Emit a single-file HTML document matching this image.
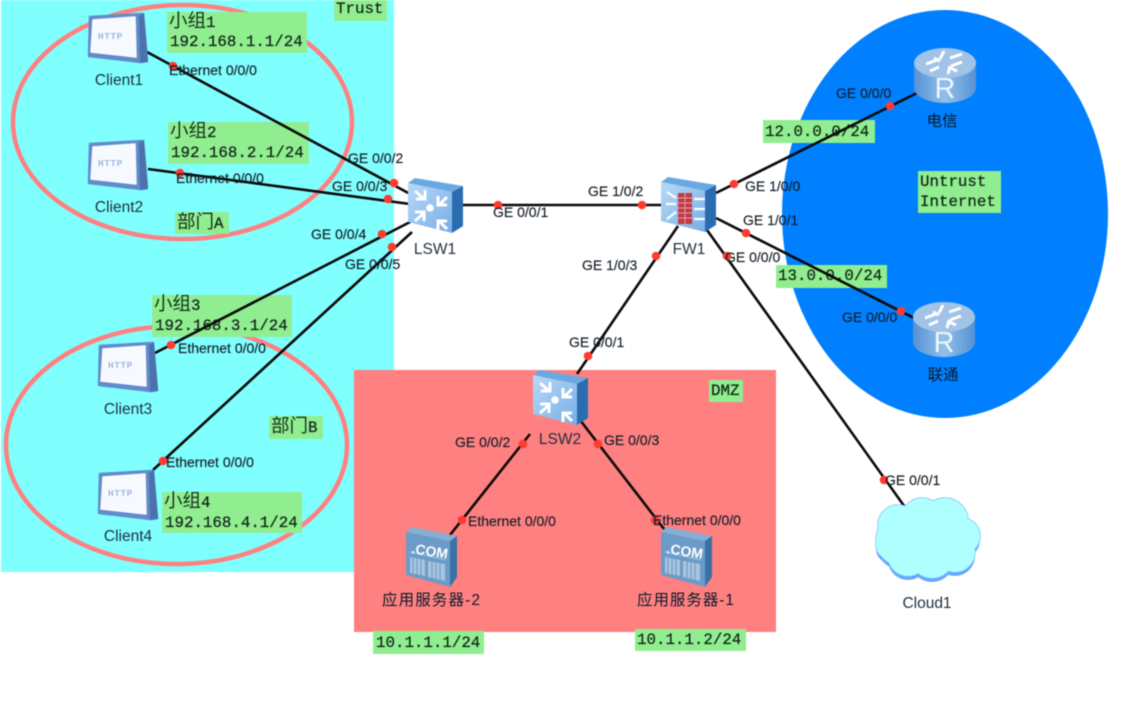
<!DOCTYPE html>
<html><head><meta charset="utf-8">
<style>
html,body{margin:0;padding:0;background:#fff;width:1128px;height:707px;overflow:hidden}
svg{display:block;filter:blur(.5px)}
.i{font-family:"Liberation Sans","Noto Sans CJK SC",sans-serif;font-size:14px;fill:#141e28;stroke:#141e28;stroke-width:.15}
.n{font-family:"Liberation Sans","Noto Sans CJK SC",sans-serif;font-size:15.5px;fill:#1d3040}
.z{font-family:"Liberation Sans","Noto Sans CJK SC",sans-serif;font-size:15.5px;fill:#0a1a2a}
.m{font-family:"Liberation Mono","Noto Sans CJK SC",monospace;font-size:15.8px;fill:#14281a;stroke:#14281a;stroke-width:.25}
.c{font-family:"Noto Sans CJK SC",sans-serif;font-size:18.5px;fill:#18301c}
.g{fill:#90ee90}
.l{stroke:#0a0a0a;stroke-width:2.6;fill:none}
.d{fill:#ff3b30}
.h{font-family:"Liberation Mono",monospace;font-weight:bold;font-size:9.5px;fill:#a3b6e2;letter-spacing:.5px}
</style></head><body>
<svg width="1128" height="707" viewBox="0 0 1128 707" xmlns="http://www.w3.org/2000/svg">
<defs>
<linearGradient id="sw" x1="0" y1="0" x2="1" y2="1"><stop offset="0" stop-color="#b8d9f7"/><stop offset="1" stop-color="#78aee6"/></linearGradient>
<linearGradient id="rt" x1="0" y1="0" x2="1" y2="0"><stop offset="0" stop-color="#5592d4"/><stop offset=".5" stop-color="#94bfea"/><stop offset="1" stop-color="#5592d4"/></linearGradient>
<g id="client">
<polygon points="90,17 143,14 147,61 141,62 89,56" fill="#628bcb" stroke="#628bcb" stroke-width="2.500" stroke-linejoin="round"/>
<polygon points="139,16 144,13 148,62 140,63" fill="#4b72ae"/>
<polygon points="93,20 135,17 136,57 91,52" fill="#f6faff" stroke="#f6faff" stroke-width="1.500" stroke-linejoin="round"/>
</g>
<g id="sw3d">
<polygon points="408,183 415,178 463,186 452,192" fill="#6aa8e2"/>
<polygon points="452,192 463,186 463,226 452,233" fill="#2a6cb0"/>
<polygon points="408,183 452,192 452,233 408,222" fill="url(#sw)"/>
</g>
<g id="swarr" fill="none" stroke="#fff" stroke-width="3">
<path d="M415 191l9 8M425 190v9h-9M447 197l-8 8M438 196v9h9M415 221l9-8M415 212h9v9M447 229l-8-8M438 230v-9h9"/>
<circle cx="430" cy="208" r="3.800" fill="#fff" stroke="none"/>
</g>
<g id="router">
<path d="M914 62v26a31 15 0 0 0 62 0V62z" fill="url(#rt)"/>
<ellipse cx="945" cy="63" rx="31" ry="15" fill="#a2c3e8"/>
<g fill="none" stroke="#fff" stroke-width="3"><path d="M926 64l11-4M930 71l9-4M950 58l12-4M951 66l11-4M944 51l-4 8M948 74l2-8M934 58l6 3M950 68l7 3"/></g>
</g>
<g id="srv">
<polygon points="406,532 412,527 457,536 450,541" fill="#86aed2"/>
<polygon points="450,541 457,536 457,577 450,587" fill="#3a72a6"/>
<polygon points="406,532 450,541 450,587 406,575" fill="#6b9bc8"/>
<path d="M410 552l36 8" stroke="#a8c4de" stroke-width="1" fill="none"/>
<g fill="#a9c4de"><polygon points="410,557 425,560 425,576 410,573"/><polygon points="428,561 445,564 445,581 428,577"/></g>
<g stroke="#6b9bc8" stroke-width="1"><path d="M413 557v17M417 558v17M421 559v17M432 561v17M436 562v17M440 563v17"/></g>
</g>
<g id="cl">
<circle cx="902" cy="540" r="26"/><circle cx="898" cy="525" r="20"/><circle cx="922" cy="518" r="20"/><circle cx="945" cy="521" r="23"/><circle cx="962" cy="536" r="18"/><circle cx="955" cy="552" r="20"/><circle cx="932" cy="556" r="22"/><circle cx="908" cy="556" r="20"/><circle cx="890" cy="545" r="14"/><circle cx="930" cy="535" r="30"/>
</g>
</defs>

<rect x="1" y="0" width="393" height="572" fill="#80ffff"/>
<rect x="354" y="370" width="422" height="262" fill="#ff8080"/>
<ellipse cx="945" cy="214" rx="163" ry="204" fill="#0080ff"/>
<ellipse cx="182.500" cy="122" rx="169.500" ry="117" fill="none" stroke="#ff8080" stroke-width="4.500"/>
<ellipse cx="176.500" cy="445" rx="170.500" ry="119" fill="none" stroke="#ff8080" stroke-width="4.500"/>

<rect class="g" x="167" y="12" width="140" height="41"/>
<rect class="g" x="168" y="122" width="141" height="42"/>
<rect class="g" x="334" y="0" width="53" height="21"/>
<rect class="g" x="175" y="212" width="54" height="22"/>
<rect class="g" x="152" y="295" width="140" height="42"/>
<rect class="g" x="162" y="492" width="140" height="41"/>
<rect class="g" x="269" y="416" width="54" height="23"/>
<rect class="g" x="709" y="380" width="34" height="22"/>
<rect class="g" x="373" y="631" width="111" height="23"/>
<rect class="g" x="635" y="629" width="111" height="22"/>
<rect class="g" x="763" y="120" width="112" height="23"/>
<rect class="g" x="776" y="265" width="111" height="23"/>
<rect class="g" x="918" y="171" width="83" height="42"/>

<text class="m" x="336" y="13">Trust</text>
<text class="m" x="170" y="46">192.168.1.1/24</text>
<text class="m" x="171" y="157">192.168.2.1/24</text>
<text class="m" x="155" y="330">192.168.3.1/24</text>
<text class="m" x="165" y="527">192.168.4.1/24</text>
<text class="c" x="169" y="27">小组<tspan class="m" style="font-size:15.800px">1</tspan></text>
<text class="c" x="170" y="137">小组<tspan class="m" style="font-size:15.800px">2</tspan></text>
<text class="c" x="154" y="310">小组<tspan class="m" style="font-size:15.800px">3</tspan></text>
<text class="c" x="164" y="507">小组<tspan class="m" style="font-size:15.800px">4</tspan></text>
<text class="c" x="177" y="228">部门<tspan class="m" style="font-size:15.800px">A</tspan></text>
<text class="c" x="271" y="432">部门<tspan class="m" style="font-size:15.800px">B</tspan></text>
<text class="m" x="711" y="395">DMZ</text>
<text class="m" x="376" y="647">10.1.1.1/24</text>
<text class="m" x="637" y="644">10.1.1.2/24</text>
<text class="m" x="765" y="136">12.0.0.0/24</text>
<text class="m" x="778" y="280">13.0.0.0/24</text>
<text class="m" x="920" y="186">Untrust</text>
<text class="m" x="920" y="206">Internet</text>

<g class="l">
<path d="M147 52L412 195"/><path d="M148 169L410 204"/>
<path d="M155 353L412 221"/><path d="M153 470L412 232"/>
<path d="M460 205H662"/><path d="M678 226L577 374"/>
<path d="M716 193L917 93"/><path d="M716 218L914 318"/>
<path d="M707 230L907 510"/><path d="M530 434L450 535"/><path d="M580 420L664 529"/>
</g>

<use href="#client"/>
<use href="#client" y="127"/>
<use href="#client" x="10" y="329"/>
<use href="#client" x="10" y="457"/>
<text class="h" x="98" y="39">HTTP</text>
<text class="h" x="98" y="166">HTTP</text>
<text class="h" x="108" y="368">HTTP</text>
<text class="h" x="108" y="496">HTTP</text>

<use href="#sw3d"/><use href="#swarr"/>
<use href="#sw3d" x="125" y="192"/><use href="#swarr" x="125" y="192"/>
<use href="#sw3d" x="253" y="-1"/>
<rect x="678" y="193" width="14" height="31" fill="#c03a48"/>
<path d="M678 198h14M678 203h14M678 208h14M678 213h14M678 218h14M685 193v31" stroke="#e8a0a8" stroke-width="1" fill="none"/>
<g stroke="#fff" stroke-width="2.200" fill="none"><path d="M667 192l9 6M666 204h10M667 219l9-7M694 199h11M694 209h11M694 219h11"/></g>

<use href="#router"/>
<text x="945" y="98" text-anchor="middle" style="font-family:'Liberation Sans',sans-serif;font-size:29px;fill:#eef5fc">R</text>
<use href="#router" x="-1" y="254"/>
<text x="944" y="352" text-anchor="middle" style="font-family:'Liberation Sans',sans-serif;font-size:29px;fill:#eef5fc">R</text>

<use href="#srv"/>
<use href="#srv" x="255"/>
<text x="411" y="553" transform="rotate(9 411 553)" style="font-family:'Liberation Sans',sans-serif;font-weight:bold;font-size:14px;fill:#fff">.COM</text>
<text x="666" y="553" transform="rotate(9 666 553)" style="font-family:'Liberation Sans',sans-serif;font-weight:bold;font-size:14px;fill:#fff">.COM</text>

<use href="#cl" fill="#66a6ff" y="4"/>
<use href="#cl" fill="#8cd0ff" stroke="#80c0ff" stroke-width="1.500"/>
<use href="#cl" fill="#b0ffff"/>

<g class="d">
<circle cx="173" cy="66" r="4.300"/><circle cx="180" cy="173" r="4.300"/><circle cx="171" cy="345" r="4.300"/><circle cx="163" cy="461" r="4.300"/>
<circle cx="394" cy="183" r="4.300"/><circle cx="388" cy="199" r="4.300"/><circle cx="382" cy="234" r="4.300"/><circle cx="392" cy="247" r="4.300"/>
<circle cx="498" cy="205" r="4.300"/><circle cx="642" cy="205" r="4.300"/><circle cx="656" cy="256" r="4.300"/><circle cx="588" cy="356" r="4.300"/>
<circle cx="734" cy="184" r="4.300"/><circle cx="890" cy="106" r="4.300"/><circle cx="746" cy="233" r="4.300"/><circle cx="901" cy="311" r="4.300"/>
<circle cx="727" cy="256" r="4.300"/><circle cx="884" cy="480" r="4.300"/><circle cx="523" cy="444" r="4.300"/><circle cx="462" cy="520" r="4.300"/>
<circle cx="598" cy="444" r="4.300"/><circle cx="655" cy="520" r="4.300"/>
</g>

<text class="i" x="169" y="75">Ethernet 0/0/0</text>
<text class="i" x="176" y="183">Ethernet 0/0/0</text>
<text class="i" x="178" y="353">Ethernet 0/0/0</text>
<text class="i" x="166" y="467">Ethernet 0/0/0</text>
<text class="i" x="348" y="163">GE 0/0/2</text>
<text class="i" x="332" y="191">GE 0/0/3</text>
<text class="i" x="311" y="239">GE 0/0/4</text>
<text class="i" x="345" y="269">GE 0/0/5</text>
<text class="i" x="493" y="217">GE 0/0/1</text>
<text class="i" x="588" y="196">GE 1/0/2</text>
<text class="i" x="582" y="270">GE 1/0/3</text>
<text class="i" x="569" y="347">GE 0/0/1</text>
<text class="i" x="725" y="262">GE 0/0/0</text>
<text class="i" x="745" y="191">GE 1/0/0</text>
<text class="i" x="743" y="225">GE 1/0/1</text>
<text class="i" x="836" y="98">GE 0/0/0</text>
<text class="i" x="842" y="322">GE 0/0/0</text>
<text class="i" x="885" y="485">GE 0/0/1</text>
<text class="i" x="455" y="447">GE 0/0/2</text>
<text class="i" x="604" y="445">GE 0/0/3</text>
<text class="i" x="468" y="526">Ethernet 0/0/0</text>
<text class="i" x="653" y="525">Ethernet 0/0/0</text>

<text class="n" x="119" y="85" text-anchor="middle">Client1</text>
<text class="n" x="119" y="212" text-anchor="middle">Client2</text>
<text class="n" x="128" y="414" text-anchor="middle">Client3</text>
<text class="n" x="128" y="541" text-anchor="middle">Client4</text>
<text class="n" x="435" y="254" text-anchor="middle">LSW1</text>
<text class="n" x="689" y="254" text-anchor="middle">FW1</text>
<text class="n" x="560" y="444" text-anchor="middle">LSW2</text>
<text class="n" x="927" y="608" text-anchor="middle">Cloud1</text>
<text class="z" x="942" y="126" text-anchor="middle">电信</text>
<text class="z" x="943" y="380" text-anchor="middle">联通</text>
<text class="z" x="382" y="605" textLength="98" lengthAdjust="spacing">应用服务器-2</text>
<text class="z" x="637" y="605" textLength="97" lengthAdjust="spacing">应用服务器-1</text>
</svg>
</body></html>
